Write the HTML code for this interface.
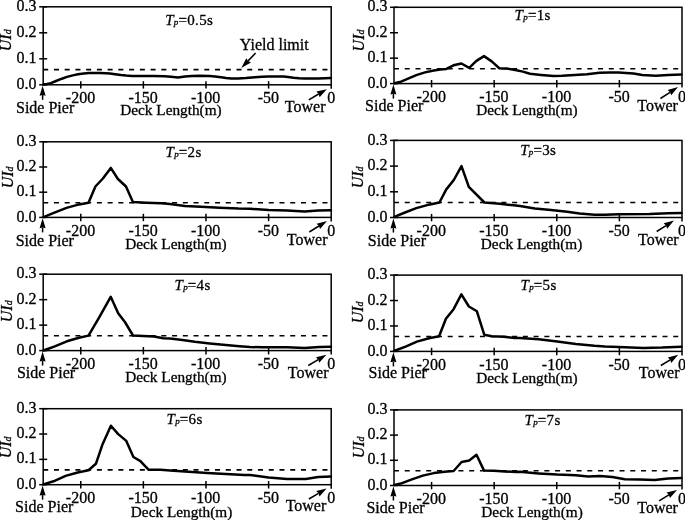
<!DOCTYPE html>
<html><head><meta charset="utf-8"><style>
html,body{margin:0;padding:0;background:#fff;}
body{width:685px;height:520px;overflow:hidden;}
svg{display:block;filter:grayscale(1);}
text{-webkit-font-smoothing:antialiased;}
.g{opacity:0.999;}
text{font-family:"Liberation Serif", serif;font-size:16px;fill:#000;stroke:#000;stroke-width:0.3px;}
.dk{font-size:15.3px;}
.ti{font-size:15px;}
</style></head><body>
<svg width="685" height="520" viewBox="0 0 685 520"><g class="g"><g><line x1="43.2" y1="69.6" x2="331.2" y2="69.6" stroke="#000" stroke-width="1.6" stroke-dasharray="5 5.74"/><polyline points="43.3,84.5 47,84 50.9,83.1 56,81 61.9,78.7 67,76.9 72.8,75.4 78,74.3 83.8,73.5 89,73.1 94.7,72.9 100,73 105.7,73.3 110,73.6 115,74.3 121,75.1 126,75.6 131.9,75.9 142.8,75.9 153.8,75.9 164.7,76.3 171,76.8 178,77.4 185,76.6 191.9,75.9 200,75.8 209.4,75.9 215,76.4 221.1,77.2 226,78 231.3,78.6 238,78.5 245.9,78.1 255,77.3 262,76.7 268.6,76.4 276,76.4 283.5,76.5 288,77 293.4,77.7 299,78.2 304.6,78.4 318.2,78.4 325,78.2 331,78" fill="none" stroke="#000" stroke-width="2.5" stroke-linejoin="round" stroke-linecap="round"/><rect x="43.2" y="6.8" width="288" height="78" fill="none" stroke="#000" stroke-width="1.5"/><line x1="39.2" y1="84.8" x2="47.2" y2="84.8" stroke="#000" stroke-width="1.5"/><text x="36.6" y="88.9" text-anchor="end">0.0</text><line x1="39.2" y1="58.8" x2="47.2" y2="58.8" stroke="#000" stroke-width="1.5"/><text x="36.6" y="62.9" text-anchor="end">0.1</text><line x1="39.2" y1="32.8" x2="47.2" y2="32.8" stroke="#000" stroke-width="1.5"/><text x="36.6" y="36.9" text-anchor="end">0.2</text><line x1="39.2" y1="6.8" x2="47.2" y2="6.8" stroke="#000" stroke-width="1.5"/><text x="36.6" y="10.9" text-anchor="end">0.3</text><line x1="80.77" y1="81.2" x2="80.77" y2="88.6" stroke="#000" stroke-width="1.5"/><text x="80.47" y="103.4" text-anchor="middle">-200</text><line x1="143.37" y1="81.2" x2="143.37" y2="88.6" stroke="#000" stroke-width="1.5"/><text x="143.07" y="103.4" text-anchor="middle">-150</text><line x1="205.98" y1="81.2" x2="205.98" y2="88.6" stroke="#000" stroke-width="1.5"/><text x="205.68" y="103.4" text-anchor="middle">-100</text><line x1="268.59" y1="81.2" x2="268.59" y2="88.6" stroke="#000" stroke-width="1.5"/><text x="268.29" y="103.4" text-anchor="middle">-50</text><line x1="331.2" y1="84.8" x2="331.2" y2="88.8" stroke="#000" stroke-width="1.5"/><text x="331.2" y="103.4" text-anchor="middle">0</text><line x1="42.6" y1="99.8" x2="42.6" y2="95" stroke="#000" stroke-width="1.5"/><path d="M42.6,85.7 L45.6,95.7 L42.6,95 L39.6,95.7 Z" fill="#000"/><text x="16" y="112.9">Side Pier</text><text x="120.2" y="115" class="dk">Deck Length(m)</text><text x="325.5" y="112.1" text-anchor="end">Tower</text><line x1="308.8" y1="99.8" x2="318.63" y2="94.01" stroke="#000" stroke-width="1.5"/><path d="M326.8,89.2 L319.63,97.13 L318.63,94.01 L316.39,91.62 Z" fill="#000"/><text transform="translate(11,51.2) rotate(-90)" font-style="italic">UI<tspan font-size="10">d</tspan></text><text x="165.2" y="25" class="ti"><tspan font-style="italic">T</tspan><tspan font-style="italic" font-size="9" dx="0.3">p</tspan><tspan dx="0.2" letter-spacing="0.3">=0.5s</tspan></text></g><g><line x1="394" y1="68.74" x2="682" y2="68.74" stroke="#000" stroke-width="1.6" stroke-dasharray="5 5.74"/><polyline points="394.4,83.3 401,81.7 407.5,78.9 416.3,75.1 425,72.4 433.8,70.5 440.4,69.6 446.4,68.9 453.5,65.3 461.4,63.5 469.2,67.8 476.4,60.9 484,56.1 491.7,61.4 499.3,68.2 506.5,68.5 515.2,70 522.9,71.6 530,73.8 541.1,74.9 553.5,76 562.2,75.8 574.6,74.9 587,74.2 599.5,72.8 610,72.5 618.6,72.6 626,73 633.5,73.6 642.2,74.9 655.8,75.7 668.2,75.1 681.5,74.5" fill="none" stroke="#000" stroke-width="2.5" stroke-linejoin="round" stroke-linecap="round"/><rect x="394" y="7.3" width="288" height="76.3" fill="none" stroke="#000" stroke-width="1.5"/><line x1="390" y1="83.6" x2="398" y2="83.6" stroke="#000" stroke-width="1.5"/><text x="387.4" y="87.7" text-anchor="end">0.0</text><line x1="390" y1="58.17" x2="398" y2="58.17" stroke="#000" stroke-width="1.5"/><text x="387.4" y="62.27" text-anchor="end">0.1</text><line x1="390" y1="32.73" x2="398" y2="32.73" stroke="#000" stroke-width="1.5"/><text x="387.4" y="36.83" text-anchor="end">0.2</text><line x1="390" y1="7.3" x2="398" y2="7.3" stroke="#000" stroke-width="1.5"/><text x="387.4" y="11.4" text-anchor="end">0.3</text><line x1="431.57" y1="80" x2="431.57" y2="87.4" stroke="#000" stroke-width="1.5"/><text x="431.27" y="102.2" text-anchor="middle">-200</text><line x1="494.17" y1="80" x2="494.17" y2="87.4" stroke="#000" stroke-width="1.5"/><text x="493.87" y="102.2" text-anchor="middle">-150</text><line x1="556.78" y1="80" x2="556.78" y2="87.4" stroke="#000" stroke-width="1.5"/><text x="556.48" y="102.2" text-anchor="middle">-100</text><line x1="619.39" y1="80" x2="619.39" y2="87.4" stroke="#000" stroke-width="1.5"/><text x="619.09" y="102.2" text-anchor="middle">-50</text><line x1="682" y1="83.6" x2="682" y2="87.6" stroke="#000" stroke-width="1.5"/><text x="682" y="102.2" text-anchor="middle">0</text><line x1="393.4" y1="98.6" x2="393.4" y2="93.8" stroke="#000" stroke-width="1.5"/><path d="M393.4,84.5 L396.4,94.5 L393.4,93.8 L390.4,94.5 Z" fill="#000"/><text x="365.1" y="110.6">Side Pier</text><text x="476.2" y="114.6" class="dk">Deck Length(m)</text><text x="677.9" y="110.9" text-anchor="end">Tower</text><line x1="660.4" y1="98.5" x2="670.04" y2="92.26" stroke="#000" stroke-width="1.5"/><path d="M678,87.1 L671.18,95.33 L670.04,92.26 L667.7,89.96 Z" fill="#000"/><text transform="translate(363.8,51.4) rotate(-90)" font-style="italic">UI<tspan font-size="10">d</tspan></text><text x="514.6" y="20.3" class="ti"><tspan font-style="italic">T</tspan><tspan font-style="italic" font-size="9" dx="0.3">p</tspan><tspan dx="0.2" letter-spacing="0.3">=1s</tspan></text></g><g><line x1="43.2" y1="202.68" x2="331.2" y2="202.68" stroke="#000" stroke-width="1.6" stroke-dasharray="5 5.74"/><polyline points="43.5,217.1 53.8,212.8 66.5,207.9 79.2,204.4 88.5,202.7 95.4,186.5 102.9,178.5 110.8,167.9 117.9,179 126,186.5 132.9,202.1 146.2,202.7 161.2,203.3 170,203.9 184.9,206.1 201,206.8 219.6,207.7 238.2,208.6 250,208.8 268.6,209.9 287.2,210.5 304.6,211.6 318.2,210.5 331,210.2" fill="none" stroke="#000" stroke-width="2.5" stroke-linejoin="round" stroke-linecap="round"/><rect x="43.2" y="141.8" width="288" height="75.6" fill="none" stroke="#000" stroke-width="1.5"/><line x1="39.2" y1="217.4" x2="47.2" y2="217.4" stroke="#000" stroke-width="1.5"/><text x="36.6" y="221.5" text-anchor="end">0.0</text><line x1="39.2" y1="192.2" x2="47.2" y2="192.2" stroke="#000" stroke-width="1.5"/><text x="36.6" y="196.3" text-anchor="end">0.1</text><line x1="39.2" y1="167" x2="47.2" y2="167" stroke="#000" stroke-width="1.5"/><text x="36.6" y="171.1" text-anchor="end">0.2</text><line x1="39.2" y1="141.8" x2="47.2" y2="141.8" stroke="#000" stroke-width="1.5"/><text x="36.6" y="145.9" text-anchor="end">0.3</text><line x1="80.77" y1="213.8" x2="80.77" y2="221.2" stroke="#000" stroke-width="1.5"/><text x="80.47" y="236" text-anchor="middle">-200</text><line x1="143.37" y1="213.8" x2="143.37" y2="221.2" stroke="#000" stroke-width="1.5"/><text x="143.07" y="236" text-anchor="middle">-150</text><line x1="205.98" y1="213.8" x2="205.98" y2="221.2" stroke="#000" stroke-width="1.5"/><text x="205.68" y="236" text-anchor="middle">-100</text><line x1="268.59" y1="213.8" x2="268.59" y2="221.2" stroke="#000" stroke-width="1.5"/><text x="268.29" y="236" text-anchor="middle">-50</text><line x1="331.2" y1="217.4" x2="331.2" y2="221.4" stroke="#000" stroke-width="1.5"/><text x="331.2" y="236" text-anchor="middle">0</text><line x1="42.6" y1="232.4" x2="42.6" y2="227.6" stroke="#000" stroke-width="1.5"/><path d="M42.6,218.3 L45.6,228.3 L42.6,227.6 L39.6,228.3 Z" fill="#000"/><text x="15.7" y="245.6">Side Pier</text><text x="125.2" y="248.8" class="dk">Deck Length(m)</text><text x="327.5" y="244.7" text-anchor="end">Tower</text><line x1="309.3" y1="232" x2="318.94" y2="226.01" stroke="#000" stroke-width="1.5"/><path d="M327,221 L320.03,229.1 L318.94,226.01 L316.65,223.67 Z" fill="#000"/><text transform="translate(13.1,188.3) rotate(-90)" font-style="italic">UI<tspan font-size="10">d</tspan></text><text x="165.5" y="157.2" class="ti"><tspan font-style="italic">T</tspan><tspan font-style="italic" font-size="9" dx="0.3">p</tspan><tspan dx="0.2" letter-spacing="0.3">=2s</tspan></text></g><g><line x1="394" y1="202.48" x2="682" y2="202.48" stroke="#000" stroke-width="1.6" stroke-dasharray="5 5.74"/><polyline points="394.4,216.9 405,212.5 416.3,208.1 430,204.4 439.4,202.5 446.3,189.4 453.8,180 461.5,166.1 468.8,186.9 484.4,202.5 500,203.8 513.8,205.3 520,205.9 534.9,208.4 551,210.1 567.2,211.7 579.6,213.6 594.5,214.8 605,214.8 618.6,214.2 649.6,213.9 668.2,213.3 681.5,213" fill="none" stroke="#000" stroke-width="2.5" stroke-linejoin="round" stroke-linecap="round"/><rect x="394" y="140.4" width="288" height="77.1" fill="none" stroke="#000" stroke-width="1.5"/><line x1="390" y1="217.5" x2="398" y2="217.5" stroke="#000" stroke-width="1.5"/><text x="387.4" y="221.6" text-anchor="end">0.0</text><line x1="390" y1="191.8" x2="398" y2="191.8" stroke="#000" stroke-width="1.5"/><text x="387.4" y="195.9" text-anchor="end">0.1</text><line x1="390" y1="166.1" x2="398" y2="166.1" stroke="#000" stroke-width="1.5"/><text x="387.4" y="170.2" text-anchor="end">0.2</text><line x1="390" y1="140.4" x2="398" y2="140.4" stroke="#000" stroke-width="1.5"/><text x="387.4" y="144.5" text-anchor="end">0.3</text><line x1="431.57" y1="213.9" x2="431.57" y2="221.3" stroke="#000" stroke-width="1.5"/><text x="431.27" y="236.1" text-anchor="middle">-200</text><line x1="494.17" y1="213.9" x2="494.17" y2="221.3" stroke="#000" stroke-width="1.5"/><text x="493.87" y="236.1" text-anchor="middle">-150</text><line x1="556.78" y1="213.9" x2="556.78" y2="221.3" stroke="#000" stroke-width="1.5"/><text x="556.48" y="236.1" text-anchor="middle">-100</text><line x1="619.39" y1="213.9" x2="619.39" y2="221.3" stroke="#000" stroke-width="1.5"/><text x="619.09" y="236.1" text-anchor="middle">-50</text><line x1="682" y1="217.5" x2="682" y2="221.5" stroke="#000" stroke-width="1.5"/><text x="682" y="236.1" text-anchor="middle">0</text><line x1="393.4" y1="232.5" x2="393.4" y2="227.7" stroke="#000" stroke-width="1.5"/><path d="M393.4,218.4 L396.4,228.4 L393.4,227.7 L390.4,228.4 Z" fill="#000"/><text x="367.8" y="245.6">Side Pier</text><text x="480.8" y="248.8" class="dk">Deck Length(m)</text><text x="678.7" y="245.1" text-anchor="end">Tower</text><line x1="656.7" y1="231.5" x2="666" y2="225.59" stroke="#000" stroke-width="1.5"/><path d="M674,220.5 L667.11,228.67 L666,225.59 L663.68,223.27 Z" fill="#000"/><text transform="translate(363.1,188.3) rotate(-90)" font-style="italic">UI<tspan font-size="10">d</tspan></text><text x="520.2" y="154.9" class="ti"><tspan font-style="italic">T</tspan><tspan font-style="italic" font-size="9" dx="0.3">p</tspan><tspan dx="0.2" letter-spacing="0.3">=3s</tspan></text></g><g><line x1="43.2" y1="335.72" x2="331.2" y2="335.72" stroke="#000" stroke-width="1.6" stroke-dasharray="5 5.74"/><polyline points="43.4,350.5 54.8,346.3 66.9,341.3 79,337.8 88.5,335.6 99.2,317.3 110.7,296.8 118.2,313.3 124.9,322 133,335.5 143.1,335.9 153.9,336.4 163.3,338.2 170,338.6 182.4,339.9 194.8,341.8 209.7,343.4 225.8,345.1 239.5,346.3 250,347 262.4,347.3 287.2,347.3 304.6,348 319.5,347.1 331,346.7" fill="none" stroke="#000" stroke-width="2.5" stroke-linejoin="round" stroke-linecap="round"/><rect x="43.2" y="274.2" width="288" height="76.4" fill="none" stroke="#000" stroke-width="1.5"/><line x1="39.2" y1="350.6" x2="47.2" y2="350.6" stroke="#000" stroke-width="1.5"/><text x="36.6" y="354.7" text-anchor="end">0.0</text><line x1="39.2" y1="325.13" x2="47.2" y2="325.13" stroke="#000" stroke-width="1.5"/><text x="36.6" y="329.23" text-anchor="end">0.1</text><line x1="39.2" y1="299.67" x2="47.2" y2="299.67" stroke="#000" stroke-width="1.5"/><text x="36.6" y="303.77" text-anchor="end">0.2</text><line x1="39.2" y1="274.2" x2="47.2" y2="274.2" stroke="#000" stroke-width="1.5"/><text x="36.6" y="278.3" text-anchor="end">0.3</text><line x1="80.77" y1="347" x2="80.77" y2="354.4" stroke="#000" stroke-width="1.5"/><text x="80.47" y="369.2" text-anchor="middle">-200</text><line x1="143.37" y1="347" x2="143.37" y2="354.4" stroke="#000" stroke-width="1.5"/><text x="143.07" y="369.2" text-anchor="middle">-150</text><line x1="205.98" y1="347" x2="205.98" y2="354.4" stroke="#000" stroke-width="1.5"/><text x="205.68" y="369.2" text-anchor="middle">-100</text><line x1="268.59" y1="347" x2="268.59" y2="354.4" stroke="#000" stroke-width="1.5"/><text x="268.29" y="369.2" text-anchor="middle">-50</text><line x1="331.2" y1="350.6" x2="331.2" y2="354.6" stroke="#000" stroke-width="1.5"/><text x="331.2" y="369.2" text-anchor="middle">0</text><line x1="42.6" y1="365.6" x2="42.6" y2="360.8" stroke="#000" stroke-width="1.5"/><path d="M42.6,351.5 L45.6,361.5 L42.6,360.8 L39.6,361.5 Z" fill="#000"/><text x="16.9" y="377.9">Side Pier</text><text x="125.2" y="382.3" class="dk">Deck Length(m)</text><text x="328.5" y="377.9" text-anchor="end">Tower</text><line x1="308.3" y1="365.5" x2="318.23" y2="359.63" stroke="#000" stroke-width="1.5"/><path d="M326.4,354.8 L319.25,362.75 L318.23,359.63 L315.99,357.24 Z" fill="#000"/><text transform="translate(12.3,322.2) rotate(-90)" font-style="italic">UI<tspan font-size="10">d</tspan></text><text x="174.5" y="289.8" class="ti"><tspan font-style="italic">T</tspan><tspan font-style="italic" font-size="9" dx="0.3">p</tspan><tspan dx="0.2" letter-spacing="0.3">=4s</tspan></text></g><g><line x1="394" y1="336.54" x2="682" y2="336.54" stroke="#000" stroke-width="1.6" stroke-dasharray="5 5.74"/><polyline points="394,351 406.2,346.3 416.9,341.6 429,338.2 439.1,336.2 445.9,318.7 453.6,309.2 461.4,294.3 468.9,306.5 476.9,311.3 484.3,334.8 491.7,336.2 503.9,336.8 514.6,337.9 520,338.1 538.6,339.3 557.2,341.4 575.8,343.9 594.5,345.8 605,346.5 618.6,347.1 643.4,348 662,347.6 681.5,346.7" fill="none" stroke="#000" stroke-width="2.5" stroke-linejoin="round" stroke-linecap="round"/><rect x="394" y="275.1" width="288" height="76.3" fill="none" stroke="#000" stroke-width="1.5"/><line x1="390" y1="351.4" x2="398" y2="351.4" stroke="#000" stroke-width="1.5"/><text x="387.4" y="355.5" text-anchor="end">0.0</text><line x1="390" y1="325.97" x2="398" y2="325.97" stroke="#000" stroke-width="1.5"/><text x="387.4" y="330.07" text-anchor="end">0.1</text><line x1="390" y1="300.53" x2="398" y2="300.53" stroke="#000" stroke-width="1.5"/><text x="387.4" y="304.63" text-anchor="end">0.2</text><line x1="390" y1="275.1" x2="398" y2="275.1" stroke="#000" stroke-width="1.5"/><text x="387.4" y="279.2" text-anchor="end">0.3</text><line x1="431.57" y1="347.8" x2="431.57" y2="355.2" stroke="#000" stroke-width="1.5"/><text x="431.27" y="370" text-anchor="middle">-200</text><line x1="494.17" y1="347.8" x2="494.17" y2="355.2" stroke="#000" stroke-width="1.5"/><text x="493.87" y="370" text-anchor="middle">-150</text><line x1="556.78" y1="347.8" x2="556.78" y2="355.2" stroke="#000" stroke-width="1.5"/><text x="556.48" y="370" text-anchor="middle">-100</text><line x1="619.39" y1="347.8" x2="619.39" y2="355.2" stroke="#000" stroke-width="1.5"/><text x="619.09" y="370" text-anchor="middle">-50</text><line x1="682" y1="351.4" x2="682" y2="355.4" stroke="#000" stroke-width="1.5"/><text x="682" y="370" text-anchor="middle">0</text><line x1="393.4" y1="366.4" x2="393.4" y2="361.6" stroke="#000" stroke-width="1.5"/><path d="M393.4,352.3 L396.4,362.3 L393.4,361.6 L390.4,362.3 Z" fill="#000"/><text x="368.6" y="377.9">Side Pier</text><text x="476.2" y="382.8" class="dk">Deck Length(m)</text><text x="679.5" y="377.8" text-anchor="end">Tower</text><line x1="660.9" y1="365.5" x2="670.13" y2="359.79" stroke="#000" stroke-width="1.5"/><path d="M678.2,354.8 L671.21,362.89 L670.13,359.79 L667.84,357.44 Z" fill="#000"/><text transform="translate(363.1,323.3) rotate(-90)" font-style="italic">UI<tspan font-size="10">d</tspan></text><text x="520.5" y="289.8" class="ti"><tspan font-style="italic">T</tspan><tspan font-style="italic" font-size="9" dx="0.3">p</tspan><tspan dx="0.2" letter-spacing="0.3">=5s</tspan></text></g><g><line x1="43.2" y1="469.9" x2="331.2" y2="469.9" stroke="#000" stroke-width="1.6" stroke-dasharray="5 5.74"/><polyline points="43.4,484.4 53.5,481.3 65.6,475.9 77.7,472.5 88.5,470.2 95.9,463.8 102.6,444.2 110.9,425.7 118.2,434.1 126.3,440.9 133.4,457 140.4,461.1 148.7,469.8 160.6,469.8 170,470.5 188.6,471.8 207.2,473 225.8,473.9 244.5,474.9 250,475.1 268.6,477.4 287.2,478.9 305.8,478.9 318.2,477.1 331,476.4" fill="none" stroke="#000" stroke-width="2.5" stroke-linejoin="round" stroke-linecap="round"/><rect x="43.2" y="408.7" width="288" height="76" fill="none" stroke="#000" stroke-width="1.5"/><line x1="39.2" y1="484.7" x2="47.2" y2="484.7" stroke="#000" stroke-width="1.5"/><text x="36.6" y="488.8" text-anchor="end">0.0</text><line x1="39.2" y1="459.37" x2="47.2" y2="459.37" stroke="#000" stroke-width="1.5"/><text x="36.6" y="463.47" text-anchor="end">0.1</text><line x1="39.2" y1="434.03" x2="47.2" y2="434.03" stroke="#000" stroke-width="1.5"/><text x="36.6" y="438.13" text-anchor="end">0.2</text><line x1="39.2" y1="408.7" x2="47.2" y2="408.7" stroke="#000" stroke-width="1.5"/><text x="36.6" y="412.8" text-anchor="end">0.3</text><line x1="80.77" y1="481.1" x2="80.77" y2="488.5" stroke="#000" stroke-width="1.5"/><text x="80.47" y="503.3" text-anchor="middle">-200</text><line x1="143.37" y1="481.1" x2="143.37" y2="488.5" stroke="#000" stroke-width="1.5"/><text x="143.07" y="503.3" text-anchor="middle">-150</text><line x1="205.98" y1="481.1" x2="205.98" y2="488.5" stroke="#000" stroke-width="1.5"/><text x="205.68" y="503.3" text-anchor="middle">-100</text><line x1="268.59" y1="481.1" x2="268.59" y2="488.5" stroke="#000" stroke-width="1.5"/><text x="268.29" y="503.3" text-anchor="middle">-50</text><line x1="331.2" y1="484.7" x2="331.2" y2="488.7" stroke="#000" stroke-width="1.5"/><text x="331.2" y="503.3" text-anchor="middle">0</text><line x1="42.6" y1="499.7" x2="42.6" y2="494.9" stroke="#000" stroke-width="1.5"/><path d="M42.6,485.6 L45.6,495.6 L42.6,494.9 L39.6,495.6 Z" fill="#000"/><text x="15.1" y="512.3">Side Pier</text><text x="130.8" y="516.5" class="dk">Deck Length(m)</text><text x="326.3" y="511.3" text-anchor="end">Tower</text><line x1="308.9" y1="499" x2="318.46" y2="493.27" stroke="#000" stroke-width="1.5"/><path d="M326.6,488.4 L319.49,496.39 L318.46,493.27 L316.21,490.9 Z" fill="#000"/><text transform="translate(10.8,458.3) rotate(-90)" font-style="italic">UI<tspan font-size="10">d</tspan></text><text x="166.5" y="423.7" class="ti"><tspan font-style="italic">T</tspan><tspan font-style="italic" font-size="9" dx="0.3">p</tspan><tspan dx="0.2" letter-spacing="0.3">=6s</tspan></text></g><g><line x1="394" y1="470.78" x2="682" y2="470.78" stroke="#000" stroke-width="1.6" stroke-dasharray="5 5.74"/><polyline points="394.4,484.9 402,483.2 411.9,479.4 422.8,475.6 433.8,473.1 444.7,471.8 453.6,471 461.6,462 469.2,460.6 476.5,454.8 483.9,470.4 493.8,470.7 504.7,471.4 515.7,472.1 520,471.8 538.6,473.4 557.2,474.6 575.8,475.3 588.2,476.4 600,475.9 612.4,477.1 624.8,479.2 639.7,479.6 654.6,480.1 668.2,478.6 681.5,478" fill="none" stroke="#000" stroke-width="2.5" stroke-linejoin="round" stroke-linecap="round"/><rect x="394" y="409.9" width="288" height="75.6" fill="none" stroke="#000" stroke-width="1.5"/><line x1="390" y1="485.5" x2="398" y2="485.5" stroke="#000" stroke-width="1.5"/><text x="387.4" y="489.6" text-anchor="end">0.0</text><line x1="390" y1="460.3" x2="398" y2="460.3" stroke="#000" stroke-width="1.5"/><text x="387.4" y="464.4" text-anchor="end">0.1</text><line x1="390" y1="435.1" x2="398" y2="435.1" stroke="#000" stroke-width="1.5"/><text x="387.4" y="439.2" text-anchor="end">0.2</text><line x1="390" y1="409.9" x2="398" y2="409.9" stroke="#000" stroke-width="1.5"/><text x="387.4" y="414" text-anchor="end">0.3</text><line x1="431.57" y1="481.9" x2="431.57" y2="489.3" stroke="#000" stroke-width="1.5"/><text x="431.27" y="504.1" text-anchor="middle">-200</text><line x1="494.17" y1="481.9" x2="494.17" y2="489.3" stroke="#000" stroke-width="1.5"/><text x="493.87" y="504.1" text-anchor="middle">-150</text><line x1="556.78" y1="481.9" x2="556.78" y2="489.3" stroke="#000" stroke-width="1.5"/><text x="556.48" y="504.1" text-anchor="middle">-100</text><line x1="619.39" y1="481.9" x2="619.39" y2="489.3" stroke="#000" stroke-width="1.5"/><text x="619.09" y="504.1" text-anchor="middle">-50</text><line x1="682" y1="485.5" x2="682" y2="489.5" stroke="#000" stroke-width="1.5"/><text x="682" y="504.1" text-anchor="middle">0</text><line x1="393.4" y1="500.5" x2="393.4" y2="495.7" stroke="#000" stroke-width="1.5"/><path d="M393.4,486.4 L396.4,496.4 L393.4,495.7 L390.4,496.4 Z" fill="#000"/><text x="366.4" y="513.2">Side Pier</text><text x="481.3" y="516.5" class="dk">Deck Length(m)</text><text x="677.9" y="512.9" text-anchor="end">Tower</text><line x1="659.1" y1="500.9" x2="668.9" y2="494.93" stroke="#000" stroke-width="1.5"/><path d="M677,490 L669.95,498.04 L668.9,494.93 L666.62,492.57 Z" fill="#000"/><text transform="translate(363.8,458.3) rotate(-90)" font-style="italic">UI<tspan font-size="10">d</tspan></text><text x="524.5" y="424.7" class="ti"><tspan font-style="italic">T</tspan><tspan font-style="italic" font-size="9" dx="0.3">p</tspan><tspan dx="0.2" letter-spacing="0.3">=7s</tspan></text></g><text x="239.8" y="50">Yield limit</text><line x1="255.6" y1="53.1" x2="248.09" y2="60.88" stroke="#000" stroke-width="1.5"/><path d="M241.3,67.9 L246.29,58.13 L248.09,60.88 L250.9,62.57 Z" fill="#000"/></g></svg>
</body></html>
